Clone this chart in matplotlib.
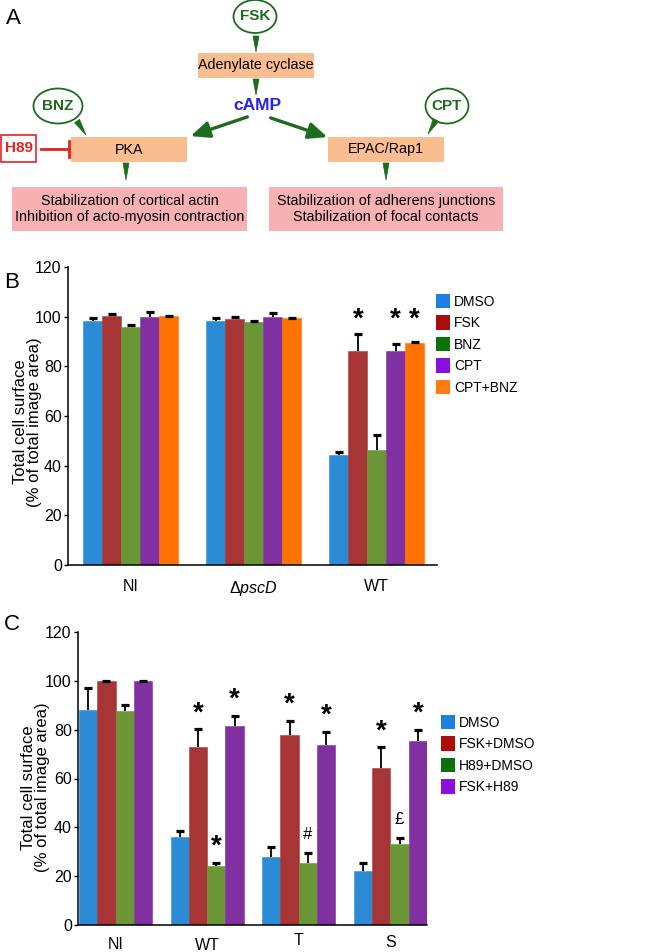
import matplotlib
matplotlib.use("Agg")
import matplotlib.pyplot as plt
import matplotlib.transforms as mtransforms
from matplotlib.patches import Ellipse, Rectangle, Polygon, FancyArrowPatch, Patch
import numpy as np

FONT = "Liberation Sans"
plt.rcParams["font.family"] = [FONT, "DejaVu Sans"]
plt.rcParams["mathtext.fontset"] = "custom"
plt.rcParams["mathtext.rm"] = FONT
plt.rcParams["mathtext.it"] = FONT + ":italic"

# ---- panel B data ----
groups_b = ["NI", "Δ$\\mathit{pscD}$", "WT"]
series_b = ["DMSO", "FSK", "BNZ", "CPT", "CPT+BNZ"]
dmso_b = [98.4, 98.4, 44.2]
fsk_b = [100.1, 99.2, 86.3]
bnz_b = [95.7, 98.0, 46.4]
cpt_b = [99.7, 99.7, 86.3]
cptbnz_b = [100.1, 99.3, 89.4]
dmso_b_err = [1.1, 1.1, 1.2]
fsk_b_err = [0.8, 0.5, 6.6]
bnz_b_err = [1.1, 0.4, 6.1]
cpt_b_err = [2.3, 1.9, 2.6]
cptbnz_b_err = [0.1, 0.2, 0.3]
# (group index, series index, symbol)
marks_b = [(2, 1, "*"), (2, 3, "*"), (2, 4, "*")]
marks_b_level = 99

# ---- panel C data ----
groups_c = ["NI", "WT", "T", "S"]
series_c = ["DMSO", "FSK+DMSO", "H89+DMSO", "FSK+H89"]
dmso_c = [88.2, 36.1, 27.7, 22.1]
fskdmso_c = [100.0, 73.1, 78.0, 64.4]
h89dmso_c = [87.8, 24.0, 25.2, 33.1]
fskh89_c = [100.0, 81.5, 73.9, 75.5]
dmso_c_err = [8.9, 2.4, 4.2, 3.4]
fskdmso_c_err = [0.1, 7.1, 5.7, 8.4]
h89dmso_c_err = [2.3, 1.4, 4.4, 2.5]
fskh89_c_err = [0.1, 4.3, 5.3, 4.5]
marks_c = [(1, 1, "*"), (1, 2, "*"), (1, 3, "*"),
           (2, 1, "*"), (2, 2, "#"), (2, 3, "*"),
           (3, 1, "*"), (3, 2, "£"), (3, 3, "*")]

bar_blue, bar_red, bar_green, bar_purple, bar_orange = "#2b8bd5", "#a83535", "#6b9636", "#8030a0", "#ff7200"
leg_blue, leg_red, leg_green, leg_purple, leg_orange = "#1c80e2", "#ae0c0c", "#0b720b", "#8a10e2", "#ff7a12"

green = "#1d6b1d"
peach = "#f9bd8f"
pink = "#f7b1b3"
red = "#e32222"


def bars(ax, values, errors, colors, width):
    x = np.arange(len(values[0]))
    offs = (np.arange(len(values)) - (len(values) - 1) / 2) * width
    tops = []
    for vals, errs, col, off in zip(values, errors, colors, offs):
        vals = np.asarray(vals)
        top = vals + np.asarray(errs)
        ax.bar(x + off, vals, width, color=col, edgecolor=col, linewidth=0.4, zorder=2)
        ax.vlines(x + off, vals, top, color="black", lw=1.3, zorder=3)
        ax.plot(x + off, top, ls="none", marker="_", ms=6, mew=2.3, color="black", zorder=3)
        tops.append(top)
    return x, offs, tops


def style_axes(ax):
    ax.spines[["top", "right"]].set_visible(False)
    ax.spines[["left", "bottom"]].set_linewidth(1.1)
    ax.set_ylim(0, 120)
    ax.set_yticks(range(0, 121, 20))
    ax.tick_params(axis="y", length=3, width=1, labelsize=11.5, pad=1.5)
    ax.tick_params(axis="x", length=0, labelsize=11.5)


def legend(ax, colors, labels, px, py):
    ax.legend(handles=[Patch(facecolor=c, edgecolor="none") for c in colors],
              labels=labels, loc="upper left", bbox_to_anchor=(px / 650, 1 - py / 952),
              bbox_transform=fig.transFigure, frameon=False, borderpad=0, borderaxespad=0,
              handlelength=1.0, handleheight=1.22, labelspacing=0.47, handletextpad=0.3,
              fontsize=10)


fig = plt.figure(figsize=(6.5, 9.52), dpi=100)

# ---- panel A: pathway diagram (pixel coordinates) ----
ax_a = fig.add_axes([0, 1 - 290 / 952, 1, 290 / 952])
ax_a.set_xlim(0, 650)
ax_a.set_ylim(290, 0)
ax_a.axis("off")

peach_boxes = [(198, 53, 314, 78, "Adenylate cyclase"),
               (71, 137, 187, 162, "PKA"),
               (328, 137, 444, 162, "EPAC/Rap1")]
pink_boxes = [(12, 187, 247, 231, "Stabilization of cortical actin\nInhibition of acto-myosin contraction"),
              (269, 187, 503, 231, "Stabilization of adherens junctions\nStabilization of focal contacts")]
drugs = [(255, 16.5, 43, 33, "FSK"), (58, 106, 49, 35, "BNZ"), (447, 106, 43, 35, "CPT")]
wedges = [((256, 36), (256, 52)), ((256, 79), (256, 95)),
          ((77, 121), (86, 135)), ((436, 120), (428, 134)),
          ((126, 163), (126, 180)), ((386, 163), (386, 180))]
big_arrows = [((250, 116), (188, 137)), ((268, 117), (330, 138))]

for x0, y0, x1, y1, txt in peach_boxes:
    ax_a.add_patch(Rectangle((x0, y0), x1 - x0, y1 - y0, facecolor=peach, edgecolor="none"))
    ax_a.text((x0 + x1) / 2, (y0 + y1) / 2, txt, ha="center", va="center", fontsize=10.3)
for x0, y0, x1, y1, txt in pink_boxes:
    ax_a.add_patch(Rectangle((x0, y0), x1 - x0, y1 - y0, facecolor=pink, edgecolor="none"))
    ax_a.text((x0 + x1) / 2, (y0 + y1) / 2, txt, ha="center", va="center", fontsize=10.3,
              linespacing=1.25)
for cx, cy, w, h, txt in drugs:
    ax_a.add_patch(Ellipse((cx, cy), w, h, facecolor="white", edgecolor=green, lw=1.3))
    ax_a.text(cx, cy, txt, ha="center", va="center", fontsize=11, fontweight="bold", color=green)
for (sx, sy), (ex, ey) in wedges:
    d = np.array([ex - sx, ey - sy], float)
    n = np.array([-d[1], d[0]]) / np.hypot(*d) * 3
    ax_a.add_patch(Polygon([(sx + n[0], sy + n[1]), (sx - n[0], sy - n[1]), (ex, ey)],
                           closed=True, facecolor=green, edgecolor=green, lw=0.5))
for start, end in big_arrows:
    ax_a.add_patch(FancyArrowPatch(start, end, arrowstyle="-|>,head_length=0.8,head_width=0.35",
                                   mutation_scale=14, lw=2.4, color=green))
ax_a.text(257, 106, "cAMP", ha="center", va="center", fontsize=12.5, fontweight="bold", color="#2424e4")

ax_a.add_patch(Rectangle((1, 135), 35, 27, facecolor="white", edgecolor=red, lw=1.2))
ax_a.text(18.5, 148.5, "H89", ha="center", va="center", fontsize=11, fontweight="bold", color=red)
ax_a.plot([41, 69], [149, 149], color=red, lw=2)
ax_a.plot([69, 69], [141, 157], color=red, lw=2)

# ---- panel B ----
ax_b = fig.add_axes([68 / 650, 1 - 565 / 952, 369 / 650, 298 / 952])
xb, offs_b, tops_b = bars(ax_b,
                          [dmso_b, fsk_b, bnz_b, cpt_b, cptbnz_b],
                          [dmso_b_err, fsk_b_err, bnz_b_err, cpt_b_err, cptbnz_b_err],
                          [bar_blue, bar_red, bar_green, bar_purple, bar_orange], 0.154)
style_axes(ax_b)
ax_b.set_xlim(-0.51, 2.49)
ax_b.set_xticks(xb)
ax_b.set_xticklabels(groups_b)
ax_b.tick_params(axis="x", pad=10)
for g, s, sym in marks_b:
    ax_b.text(xb[g] + offs_b[s], marks_b_level, sym, ha="center", va="center",
              fontsize=20, fontweight="bold")
ax_b.set_ylabel("Total cell surface\n(% of total image area)", fontsize=12, linespacing=0.95)
ax_b.yaxis.set_label_coords(-0.07, 0.48)
legend(ax_b, [leg_blue, leg_red, leg_green, leg_purple, leg_orange], series_b, 436, 294)

# ---- panel C ----
ax_c = fig.add_axes([78 / 650, 1 - 925 / 952, 349 / 650, 293 / 952])
xc, offs_c, tops_c = bars(ax_c,
                          [dmso_c, fskdmso_c, h89dmso_c, fskh89_c],
                          [dmso_c_err, fskdmso_c_err, h89dmso_c_err, fskh89_c_err],
                          [bar_blue, bar_red, bar_green, bar_purple], 0.2)
style_axes(ax_c)
ax_c.set_xlim(-0.41, 3.40)
ax_c.set_xticks(xc)
ax_c.set_xticklabels(groups_c)
ax_c.tick_params(axis="x", pad=7)
for lbl, dy in zip(ax_c.get_xticklabels(), [-2, -3, 2, 0]):
    lbl.set_transform(lbl.get_transform() + mtransforms.ScaledTranslation(0, dy / 100, fig.dpi_scale_trans))
for g, s, sym in marks_c:
    y = tops_c[s][g] + 6.5
    if sym == "*":
        ax_c.text(xc[g] + offs_c[s], y, sym, ha="center", va="center", fontsize=20, fontweight="bold")
    else:
        ax_c.text(xc[g] + offs_c[s], y + 1, sym, ha="center", va="center", fontsize=12)
ax_c.set_ylabel("Total cell surface\n(% of total image area)", fontsize=12, linespacing=0.95)
ax_c.yaxis.set_label_coords(-0.08, 0.47)
legend(ax_c, [leg_blue, leg_red, leg_green, leg_purple], series_c, 441, 715)

for letter, px, py in [("A", 13, 18), ("B", 12, 282), ("C", 12, 625)]:
    fig.text(px / 650, 1 - py / 952, letter, ha="center", va="center", fontsize=16)

fig.savefig("out.png", dpi=100)
